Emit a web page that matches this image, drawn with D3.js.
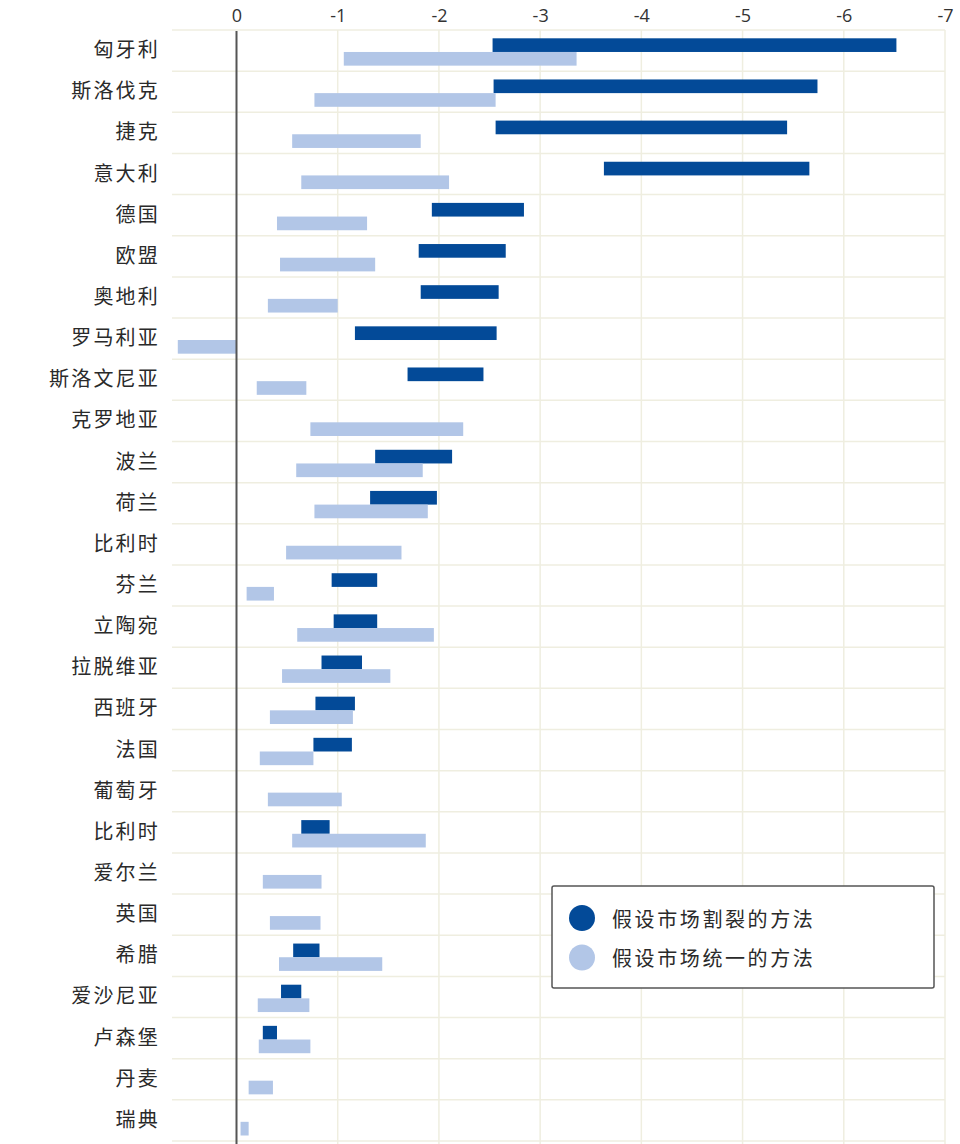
<!DOCTYPE html>
<html><head><meta charset="utf-8">
<script src="https://cdn.jsdelivr.net/npm/d3@7"></script>
<style>
html,body{margin:0;padding:0;background:#fff;}
svg{display:block;}
</style></head>
<body>
<svg id="chart" width="960" height="1144"></svg>
<script>
const categories = ["匈牙利","斯洛伐克","捷克","意大利","德国","欧盟","奥地利","罗马利亚","斯洛文尼亚","克罗地亚","波兰","荷兰","比利时","芬兰","立陶宛","拉脱维亚","西班牙","法国","葡萄牙","比利时 ","爱尔兰","英国","希腊","爱沙尼亚","卢森堡","丹麦","瑞典"];
// 假设市场割裂的方法 (range start / end)
const segStart = [-2.53,-2.54,-2.56,-3.63,-1.93,-1.80,-1.82,-1.17,-1.69,null,-1.37,-1.32,null,-0.94,-0.96,-0.84,-0.78,-0.76,null,-0.64,null,null,-0.56,-0.44,-0.26,null,null];
const segEnd   = [-6.52,-5.74,-5.44,-5.66,-2.84,-2.66,-2.59,-2.57,-2.44,null,-2.13,-1.98,null,-1.39,-1.39,-1.24,-1.17,-1.14,null,-0.92,null,null,-0.82,-0.64,-0.40,null,null];
// 假设市场统一的方法 (range start / end)
const uniStart = [-1.06,-0.77,-0.55,-0.64,-0.40,-0.43,-0.31,0.58,-0.20,-0.73,-0.59,-0.77,-0.49,-0.10,-0.60,-0.45,-0.33,-0.23,-0.31,-0.55,-0.26,-0.33,-0.42,-0.21,-0.22,-0.12,-0.04];
const uniEnd   = [-3.36,-2.56,-1.82,-2.10,-1.29,-1.37,-1.00,0,-0.69,-2.24,-1.84,-1.89,-1.63,-0.37,-1.95,-1.52,-1.15,-0.76,-1.04,-1.87,-0.84,-0.83,-1.44,-0.72,-0.73,-0.36,-0.12];
const tickValues = [0,-1,-2,-3,-4,-5,-6,-7];
const seriesNames = ["假设市场割裂的方法","假设市场统一的方法"];
const seriesColors = ["#034a98","#b2c6e7"];

const svg = d3.select("#chart");
const x = d3.scaleLinear().domain([0,-7]).range([236.5,945]);
const y = d3.scaleBand().domain(d3.range(categories.length)).range([30,1141]).padding(0);
const sub = d3.scaleBand().domain([0,1]).range([8.3, y.bandwidth()-5.5]).padding(0);

const gridColor = "#efeee0";
// horizontal gridlines
svg.append("g").selectAll("line").data(d3.range(categories.length+1)).join("line")
  .attr("x1",172).attr("x2",945)
  .attr("y1",d=>30+d*y.step()).attr("y2",d=>30+d*y.step())
  .attr("stroke",gridColor).attr("stroke-width",1.5);
// vertical gridlines
svg.append("g").selectAll("line").data(tickValues.filter(d=>d!==0)).join("line")
  .attr("x1",d=>x(d)).attr("x2",d=>x(d)).attr("y1",30).attr("y2",1144)
  .attr("stroke",gridColor).attr("stroke-width",1.5);

// top axis
const ax = svg.append("g").attr("transform","translate(0,30)")
  .call(d3.axisTop(x).tickValues(tickValues).tickSize(0).tickPadding(8).tickFormat(d=>String(d)));
ax.select(".domain").remove();
ax.selectAll("text").attr("font-family","'Open Sans','Noto Sans',sans-serif").attr("font-size",18).attr("fill","#333");

// bars
const rows = categories.map((c,i)=>({i, s0:segStart[i], s1:segEnd[i], u0:uniStart[i], u1:uniEnd[i]}));
svg.append("g").selectAll("rect").data(rows.filter(r=>r.s0!==null)).join("rect")
  .attr("x",r=>Math.min(x(r.s0),x(r.s1)))
  .attr("width",r=>Math.abs(x(r.s1)-x(r.s0)))
  .attr("y",r=>y(r.i)+sub(0)).attr("height",sub.bandwidth())
  .attr("fill",seriesColors[0]);
svg.append("g").selectAll("rect").data(rows.filter(r=>r.u0!==null)).join("rect")
  .attr("x",r=>Math.min(x(r.u0),x(r.u1)))
  .attr("width",r=>Math.abs(x(r.u1)-x(r.u0)))
  .attr("y",r=>y(r.i)+sub(1)).attr("height",sub.bandwidth())
  .attr("fill",seriesColors[1]);

// zero line
svg.append("line").attr("x1",x(0)).attr("x2",x(0)).attr("y1",31).attr("y2",1144)
  .attr("stroke","#555").attr("stroke-width",2);

// category labels
svg.append("g").selectAll("text").data(categories).join("text")
  .attr("x",160).attr("y",(d,i)=>y(i)+y.bandwidth()/2-2)
  .attr("text-anchor","end").attr("dominant-baseline","central")
  .attr("font-family","'Noto Sans CJK SC',sans-serif").attr("font-size",20)
  .attr("letter-spacing","2.2px")
  .attr("fill","#2a2a2a").text(d=>d.trim());

// legend
const lg = svg.append("g");
lg.append("rect").attr("x",552).attr("y",886).attr("width",382).attr("height",102)
  .attr("rx",2).attr("fill","#fff").attr("stroke","#555").attr("stroke-width",1.5);
seriesNames.forEach((n,k)=>{
  lg.append("circle").attr("cx",582).attr("cy",918+k*39.5).attr("r",13).attr("fill",seriesColors[k]);
  lg.append("text").attr("x",612).attr("y",918+k*39.5).attr("dominant-baseline","central")
    .attr("font-family","'Noto Sans CJK SC',sans-serif").attr("font-size",20).attr("letter-spacing","2.6px")
    .attr("fill","#2a2a2a").text(n);
});
</script>
</body></html>
